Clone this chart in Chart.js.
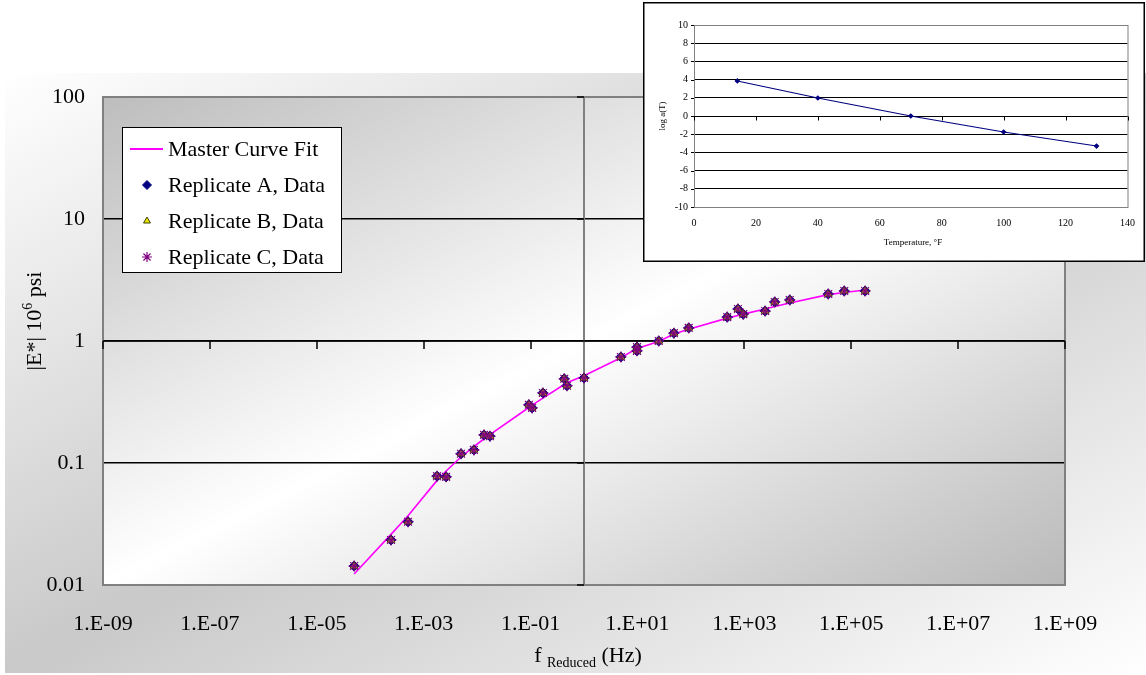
<!DOCTYPE html>
<html>
<head>
<meta charset="utf-8">
<script src="https://cdn.jsdelivr.net/npm/chart.js@4"></script>
<style>
  body { margin: 0; background: #fff; }
  #wrap { position: relative; width: 1146px; height: 675px; overflow: hidden; }
  #main { position: absolute; left: 0; top: 0; }
  #inset { position: absolute; left: 643px; top: 2px; }
</style>
</head>
<body>
<div id="wrap">
  <canvas id="main" width="1146" height="675"></canvas>
  <canvas id="inset" width="502" height="260"></canvas>
</div>
<script>
// reduced frequency, Hz
const freq = [5.0e-5, 2.45e-4, 5.1e-4, 1.78e-3, 2.63e-3, 5.0e-3, 8.7e-3, 1.35e-2, 1.74e-2, 9.3e-2,
  0.107, 0.17, 0.427, 0.48, 1.0, 4.9, 9.8, 9.8, 25, 48,
  91, 479, 759, 955, 2450, 3700, 7080, 37200, 74100, 182000];
// |E*|, 10^6 psi
const repA = [0.0143, 0.0234, 0.033, 0.078, 0.077, 0.119, 0.128, 0.170, 0.166, 0.30,
  0.283, 0.375, 0.49, 0.43, 0.497, 0.74, 0.89, 0.83, 1.0, 1.16,
  1.28, 1.57, 1.83, 1.66, 1.76, 2.09, 2.17, 2.43, 2.57, 2.57];
const repB = [0.0143, 0.0234, 0.033, 0.078, 0.077, 0.119, 0.128, 0.170, 0.166, 0.30,
  0.283, 0.375, 0.49, 0.43, 0.497, 0.74, 0.89, 0.83, 1.0, 1.16,
  1.28, 1.57, 1.83, 1.66, 1.76, 2.09, 2.17, 2.43, 2.57, 2.57];
const repC = [0.0143, 0.0234, 0.033, 0.078, 0.077, 0.119, 0.128, 0.170, 0.166, 0.30,
  0.283, 0.375, 0.49, 0.43, 0.497, 0.74, 0.89, 0.83, 1.0, 1.16,
  1.28, 1.57, 1.83, 1.66, 1.76, 2.09, 2.17, 2.43, 2.57, 2.57];

const fitFreq = [5.0e-5, 2.45e-4, 5.1e-4, 1.78e-3, 2.63e-3, 5.0e-3, 8.7e-3, 1.35e-2, 1.74e-2, 9.3e-2,
  0.107, 0.17, 0.427, 0.48, 1.0, 4.9, 9.8, 25, 48, 91,
  479, 759, 955, 2450, 3700, 7080, 37200, 74100, 182000];
const fitMod = [0.0123, 0.026, 0.037, 0.072, 0.086, 0.112, 0.136, 0.158, 0.171, 0.285,
  0.298, 0.34, 0.44, 0.455, 0.52, 0.73, 0.87, 0.99, 1.14, 1.25,
  1.54, 1.62, 1.66, 1.83, 1.92, 2.05, 2.40, 2.50, 2.62];

const xTickValues = [1e-9, 1e-7, 1e-5, 1e-3, 1e-1, 1e1, 1e3, 1e5, 1e7, 1e9];
const xTickLabels = ['1.E-09', '1.E-07', '1.E-05', '1.E-03', '1.E-01', '1.E+01', '1.E+03', '1.E+05', '1.E+07', '1.E+09'];
const yTickValues = [0.01, 0.1, 1, 10, 100];
const yTickLabels = ['0.01', '0.1', '1', '10', '100'];

// shift factor inset
const tempF = [14, 40, 70, 100, 130];
const logAT = [3.85, 1.98, 0, -1.76, -3.3];

const legendNames = ['Master Curve Fit', 'Replicate A, Data', 'Replicate B, Data', 'Replicate C, Data'];

const SERIF = '"Liberation Serif", "Times New Roman", serif';

function pts(xs, ys) { return xs.map((x, i) => ({ x: x, y: ys[i] })); }

// gradient whose bands run along the rectangle's bottom-left / top-right diagonal
function diagGrad(ctx, x, y, w, h, stops) {
  const cx = x + w / 2, cy = y + h / 2;
  const k = w * h / (w * w + h * h);
  const g = ctx.createLinearGradient(cx - h * k, cy - w * k, cx + h * k, cy + w * k);
  stops.forEach(s => g.addColorStop(s[0], s[1]));
  return g;
}

const backgrounds = {
  id: 'backgrounds',
  beforeDraw(chart) {
    const ctx = chart.ctx, a = chart.chartArea;
    ctx.save();
    ctx.fillStyle = diagGrad(ctx, 5, 73, 1145, 600, [[0, '#ffffff'], [0.5, '#c9c9c9'], [1, '#ffffff']]);
    ctx.fillRect(5, 73, 1145, 600);
    ctx.fillStyle = diagGrad(ctx, a.left, a.top, a.right - a.left, a.bottom - a.top,
      [[0, '#bdbdbd'], [0.5, '#ffffff'], [1, '#b9b9b9']]);
    ctx.fillRect(a.left, a.top, a.right - a.left, a.bottom - a.top);
    ctx.restore();
  },
  beforeDatasetsDraw(chart) {
    const ctx = chart.ctx, a = chart.chartArea;
    const xs = chart.scales.x, ys = chart.scales.y;
    const x0 = Math.round(xs.getPixelForValue(1)), y0 = Math.round(ys.getPixelForValue(1));
    ctx.save();
    ctx.strokeStyle = '#808080';
    ctx.lineWidth = 2;
    ctx.strokeRect(a.left, a.top, a.right - a.left, a.bottom - a.top);
    ctx.beginPath();
    ctx.moveTo(x0, a.top); ctx.lineTo(x0, a.bottom);
    ctx.stroke();
    ctx.strokeStyle = '#000';
    ctx.lineWidth = 1.5;
    ctx.beginPath();
    ctx.moveTo(a.left, y0); ctx.lineTo(a.right, y0);
    xTickValues.forEach(v => {
      const px = Math.round(xs.getPixelForValue(v));
      ctx.moveTo(px, y0); ctx.lineTo(px, y0 + 8);
    });
    yTickValues.forEach(v => {
      const py = Math.round(ys.getPixelForValue(v));
      ctx.moveTo(x0 - 7, py); ctx.lineTo(x0, py);
    });
    ctx.stroke();
    ctx.restore();
  },
  afterDraw(chart) {
    const ctx = chart.ctx;
    ctx.save();
    ctx.fillStyle = '#000';
    ctx.textBaseline = 'alphabetic';
    // y title
    ctx.translate(41, 321);
    ctx.rotate(-Math.PI / 2);
    const big = '22px ' + SERIF, small = '14px ' + SERIF;
    ctx.font = big;
    const w1 = ctx.measureText('|E*| 10').width, w3 = ctx.measureText(' psi').width;
    ctx.font = small;
    const w2 = ctx.measureText('6').width;
    let sx = -(w1 + w2 + w3) / 2;
    ctx.font = big; ctx.fillText('|E*| 10', sx, 0);
    ctx.font = small; ctx.fillText('6', sx + w1, -9);
    ctx.font = big; ctx.fillText(' psi', sx + w1 + w2, 0);
    ctx.setTransform(1, 0, 0, 1, 0, 0);
    // x title
    ctx.font = big;
    const a1 = ctx.measureText('f ').width, a3 = ctx.measureText(' (Hz)').width;
    ctx.font = small;
    const a2 = ctx.measureText('Reduced').width;
    sx = 588 - (a1 + a2 + a3) / 2;
    ctx.font = big; ctx.fillText('f ', sx, 662);
    ctx.font = small; ctx.fillText('Reduced', sx + a1, 667);
    ctx.font = big; ctx.fillText(' (Hz)', sx + a1 + a2, 662);
    // legend
    ctx.fillStyle = '#fff';
    ctx.fillRect(122, 127, 219, 145);
    ctx.strokeStyle = '#000';
    ctx.lineWidth = 1;
    ctx.strokeRect(122.5, 127.5, 219, 145);
    const rows = [149, 185, 221, 257];
    ctx.strokeStyle = '#ff00ff';
    ctx.lineWidth = 2;
    ctx.beginPath(); ctx.moveTo(130, rows[0]); ctx.lineTo(163, rows[0]); ctx.stroke();
    const ds = chart.data.datasets;
    for (let i = 1; i < 4; i++) {
      const d = ds[i];
      ctx.fillStyle = d.backgroundColor; ctx.strokeStyle = d.borderColor; ctx.lineWidth = d.borderWidth;
      ctx.beginPath();
      Chart.helpers.drawPoint(ctx, {
        pointStyle: d.pointStyle, radius: d.pointRadius - 0.5, borderWidth: d.borderWidth, rotation: 0
      }, 147, rows[i]);
    }
    ctx.fillStyle = '#000';
    ctx.font = '22px ' + SERIF;
    ctx.textBaseline = 'middle';
    legendNames.forEach((n, i) => ctx.fillText(n, 168, rows[i] + 1));
    ctx.restore();
  }
};

new Chart(document.getElementById('main'), {
  type: 'scatter',
  data: {
    datasets: [
      { label: legendNames[0], data: pts(fitFreq, fitMod), showLine: true, borderColor: '#ff00ff',
        backgroundColor: '#ff00ff', borderWidth: 1.6, pointRadius: 0, order: 4 },
      { label: legendNames[1], data: pts(freq, repA), pointStyle: 'rectRot', pointRadius: 5,
        backgroundColor: '#000080', borderColor: '#000080', borderWidth: 1, order: 3 },
      { label: legendNames[2], data: pts(freq, repB), pointStyle: 'triangle', pointRadius: 4.5,
        backgroundColor: '#e8e800', borderColor: '#404000', borderWidth: 1, order: 2 },
      { label: legendNames[3], data: pts(freq, repC), pointStyle: 'star', pointRadius: 5.5,
        backgroundColor: '#800080', borderColor: '#800080', borderWidth: 1.2, order: 1 }
    ]
  },
  options: {
    responsive: false,
    animation: false,
    layout: { padding: { left: 0, top: 97, right: 81, bottom: 0 } },
    plugins: { legend: { display: false }, tooltip: { enabled: false } },
    scales: {
      x: {
        type: 'logarithmic', min: 1e-9, max: 1e9,
        afterBuildTicks: s => { s.ticks = xTickValues.map(v => ({ value: v })); },
        afterFit: s => { s.height = 90; },
        grid: { display: false, drawTicks: false },
        border: { display: false },
        ticks: { autoSkip: false, maxRotation: 0, padding: 26, color: '#000',
          font: { family: SERIF, size: 22 },
          callback: (v, i) => xTickLabels[i] }
      },
      y: {
        type: 'logarithmic', min: 0.01, max: 100,
        afterBuildTicks: s => { s.ticks = yTickValues.map(v => ({ value: v })); },
        afterFit: s => { s.width = 103; },
        grid: { color: '#000', lineWidth: 1.5, drawTicks: false },
        border: { display: false },
        ticks: { autoSkip: false, padding: 18, color: '#000',
          font: { family: SERIF, size: 22 },
          callback: (v, i) => yTickLabels[i] }
      }
    }
  },
  plugins: [backgrounds]
});

const insetDeco = {
  id: 'insetDeco',
  beforeDraw(chart) {
    const ctx = chart.ctx;
    ctx.save();
    ctx.fillStyle = '#fff';
    ctx.fillRect(0, 0, chart.width, chart.height);
    ctx.restore();
  },
  beforeDatasetsDraw(chart) {
    const ctx = chart.ctx, a = chart.chartArea, xs = chart.scales.x, ys = chart.scales.y;
    const y0 = Math.round(ys.getPixelForValue(0)) + 0.5;
    ctx.save();
    ctx.strokeStyle = '#808080';
    ctx.lineWidth = 1;
    ctx.strokeRect(a.left + 0.5, a.top + 0.5, a.right - a.left, a.bottom - a.top);
    ctx.strokeStyle = '#000';
    ctx.beginPath();
    ctx.moveTo(a.left, y0); ctx.lineTo(a.right, y0);
    for (let v = 0; v <= 140; v += 20) {
      const px = Math.round(xs.getPixelForValue(v)) + 0.5;
      ctx.moveTo(px, y0); ctx.lineTo(px, y0 + 4);
    }
    for (let v = -10; v <= 10; v += 2) {
      const py = Math.round(ys.getPixelForValue(v)) + 0.5;
      ctx.moveTo(a.left - 3, py); ctx.lineTo(a.left, py);
    }
    ctx.stroke();
    ctx.restore();
  },
  afterDraw(chart) {
    const ctx = chart.ctx;
    ctx.save();
    ctx.strokeStyle = '#000';
    ctx.lineWidth = 1.5;
    ctx.strokeRect(0.75, 0.75, chart.width - 1.5, chart.height - 1.5);
    ctx.fillStyle = '#000';
    ctx.font = '9px ' + SERIF;
    ctx.textAlign = 'center';
    ctx.textBaseline = 'middle';
    ctx.fillText('Temperature, \u00B0F', 270, 241);
    ctx.translate(20, 114);
    ctx.rotate(-Math.PI / 2);
    ctx.fillText('log a(T)', 0, 0);
    ctx.restore();
  }
};

new Chart(document.getElementById('inset'), {
  type: 'scatter',
  data: {
    datasets: [{ data: pts(tempF, logAT), showLine: true, borderColor: '#000080', backgroundColor: '#000080',
      borderWidth: 1.2, pointStyle: 'rectRot', pointRadius: 2 }]
  },
  options: {
    responsive: false,
    animation: false,
    layout: { padding: { left: 0, top: 23, right: 14, bottom: 0 } },
    plugins: { legend: { display: false }, tooltip: { enabled: false } },
    scales: {
      x: {
        type: 'linear', min: 0, max: 140,
        afterFit: s => { s.height = 55; },
        grid: { display: false, drawTicks: false },
        border: { display: false },
        ticks: { stepSize: 20, padding: 10, color: '#000', maxRotation: 0, font: { family: SERIF, size: 10 } }
      },
      y: {
        type: 'linear', min: -10, max: 10,
        afterFit: s => { s.width = 51; },
        grid: { color: '#000', lineWidth: 1, drawTicks: false },
        border: { display: false },
        ticks: { stepSize: 2, padding: 6, color: '#000', font: { family: SERIF, size: 10 } }
      }
    }
  },
  plugins: [insetDeco]
});
</script>
</body>
</html>
